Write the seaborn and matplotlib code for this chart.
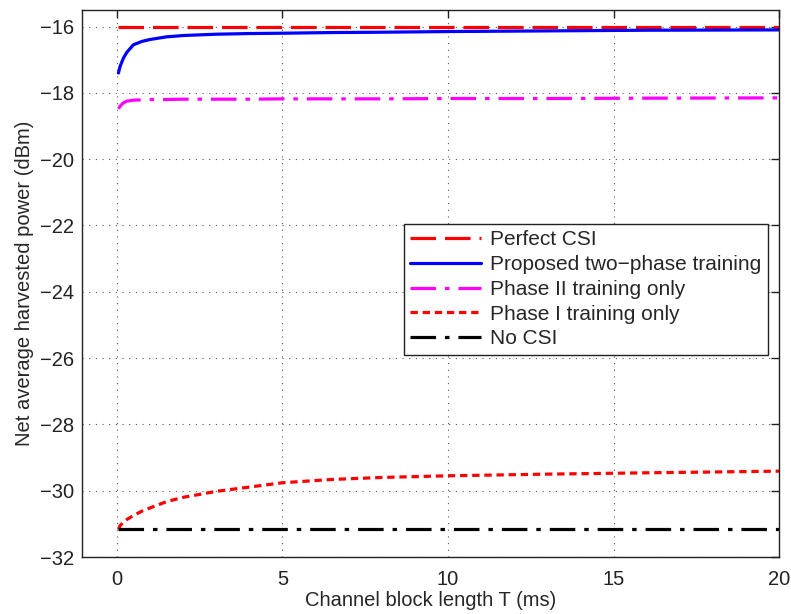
import numpy as np
import pandas as pd
import matplotlib
matplotlib.use("Agg")
import matplotlib.pyplot as plt
import seaborn as sns

# Channel block length T (ms)
T = [0.05, 0.1, 0.2, 0.3, 0.5, 0.75, 1.0, 1.5, 2.0, 3.0, 4.0, 5.0, 6.5, 8.0, 10.0, 13.0, 16.0, 20.0]

# Net average harvested power (dBm)
perfect_csi = [-16.0] * len(T)
proposed = [-17.4, -17.2, -16.95, -16.78, -16.55, -16.45, -16.39, -16.31, -16.27, -16.23,
            -16.21, -16.2, -16.18, -16.17, -16.15, -16.13, -16.11, -16.1]
phase2_only = [-18.48, -18.4, -18.3, -18.25, -18.22, -18.21, -18.2, -18.2, -18.19, -18.19,
               -18.19, -18.18, -18.18, -18.18, -18.17, -18.17, -18.16, -18.15]
phase1_only = [-31.16, -31.05, -30.95, -30.87, -30.75, -30.62, -30.52, -30.33, -30.2, -30.02,
               -29.89, -29.76, -29.66, -29.6, -29.55, -29.5, -29.46, -29.41]
no_csi = [-31.15] * len(T)

labels = ["Perfect CSI", "Proposed two\u2212phase training", "Phase II training only",
          "Phase I training only", "No CSI"]
series = [perfect_csi, proposed, phase2_only, phase1_only, no_csi]
colors = ["#ff0000", "#0000ff", "#ff00ff", "#ff0000", "#000000"]
styles = [(0, (8, 2.8)), "-", (0, (8, 2.8, 1.4, 2.8)), (0, (2.3, 1.5)), (0, (8, 2.8, 1.4, 2.8))]

sns.set_style("white")
plt.rcParams["font.family"] = ["Liberation Sans", "DejaVu Sans"]

fig = plt.figure(figsize=(7.91, 6.14), dpi=100)
ax = fig.add_axes([0.1037, 0.0928, 0.8813, 0.8909])

for lab, vals, col, ls in zip(labels, series, colors, styles):
    df = pd.DataFrame({"T": T, "P": vals})
    sns.lineplot(data=df, x="T", y="P", ax=ax, color=col, linestyle=ls,
                 linewidth=2.3, label=lab)

ax.set_xlim(-1.05, 20)
ax.set_ylim(-32, -15.5)
ax.set_xticks([0, 5, 10, 15, 20])
ax.set_yticks(np.arange(-32, -15, 2))
ax.grid(True, linestyle=(0, (1, 5)), color="#555555", linewidth=0.8)
ax.tick_params(direction="in", top=True, right=True, length=6, width=1,
               labelsize=14.5, colors="#222222")
ax.tick_params(axis="x", pad=9)
ax.tick_params(axis="y", pad=6)
for sp in ax.spines.values():
    sp.set_color("#222222")
    sp.set_linewidth(1.0)

ax.set_xlabel("Channel block length T (ms)", fontsize=14.5, labelpad=2)
ax.set_ylabel("Net average harvested power (dBm)", fontsize=14.5, labelpad=4)

leg = ax.legend(loc="upper right", bbox_to_anchor=(0.984, 0.609), borderaxespad=0,
                fontsize=15, frameon=True, fancybox=False, edgecolor="#222222",
                framealpha=1, handlelength=3.4, handletextpad=0.45,
                labelspacing=0.28, borderpad=0.3)
leg.get_frame().set_linewidth(1.0)

fig.savefig("out.png", dpi=100)
